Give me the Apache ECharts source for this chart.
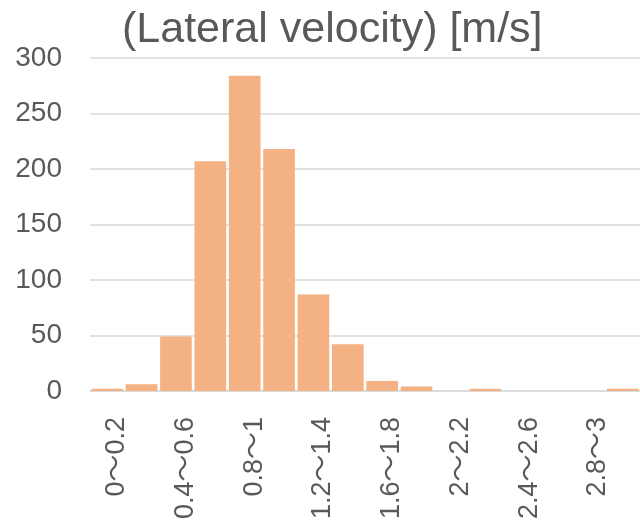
<!DOCTYPE html>
<html lang="en">
<head>
  <meta charset="UTF-8">
  <title>Lateral velocity histogram</title>
  <script src="https://cdn.jsdelivr.net/npm/echarts@6.0.0/dist/echarts.min.js"></script>
  <style>
    html, body { margin: 0; padding: 0; background: #fff; }
  </style>
</head>
<body>

<div id="chart" style="width: 640px; height: 522px;"></div>

<script>
// velocity bins [m/s]
var categories = ['0〜0.2', '0.2〜0.4', '0.4〜0.6', '0.6〜0.8', '0.8〜1', '1〜1.2', '1.2〜1.4', '1.4〜1.6',
                  '1.6〜1.8', '1.8〜2', '2〜2.2', '2.2〜2.4', '2.4〜2.6', '2.6〜2.8', '2.8〜3', '3〜3.2'];
// counts per bin
var counts = [2, 6, 49, 207, 284, 218, 87, 42, 9, 4, 0, 2, 0, 0, 0, 2];
var yTicks = { min: 0, max: 300, step: 50 };

var textColor = '#595959';
var lineColor = '#d9d9d9';
var fontFam = '"Liberation Sans", "Noto Sans CJK JP", sans-serif';

var myChart = echarts.init(document.getElementById('chart'));

var option = {
  animation: false,
  title: {
    text: '(Lateral velocity) [m/s]',
    left: 122,
    top: 9,
    padding: 0,
    textStyle: { color: textColor, fontSize: 43, fontWeight: 'normal', fontFamily: fontFam }
  },
  grid: { left: 90, right: -13, top: 58, bottom: 131 },
  xAxis: {
    type: 'category',
    data: categories,
    axisLine: { lineStyle: { color: lineColor, width: 1.5 } },
    axisTick: { show: false },
    axisLabel: {
      interval: 1,
      rotate: 90,
      margin: 26,
      verticalAlign: 'top',
      lineHeight: 19,
      color: textColor,
      fontSize: 27,
      fontFamily: fontFam
    }
  },
  yAxis: {
    type: 'value',
    min: yTicks.min,
    max: yTicks.max,
    interval: yTicks.step,
    axisLine: { show: false },
    axisTick: { show: false },
    splitLine: { lineStyle: { color: lineColor, width: 1.5 } },
    axisLabel: { margin: 28, color: textColor, fontSize: 28, fontFamily: fontFam }
  },
  series: [{
    type: 'bar',
    data: counts,
    barCategoryGap: '8%',
    itemStyle: { color: '#F4B183' }
  }]
};

myChart.setOption(option);
</script>

</body>
</html>
